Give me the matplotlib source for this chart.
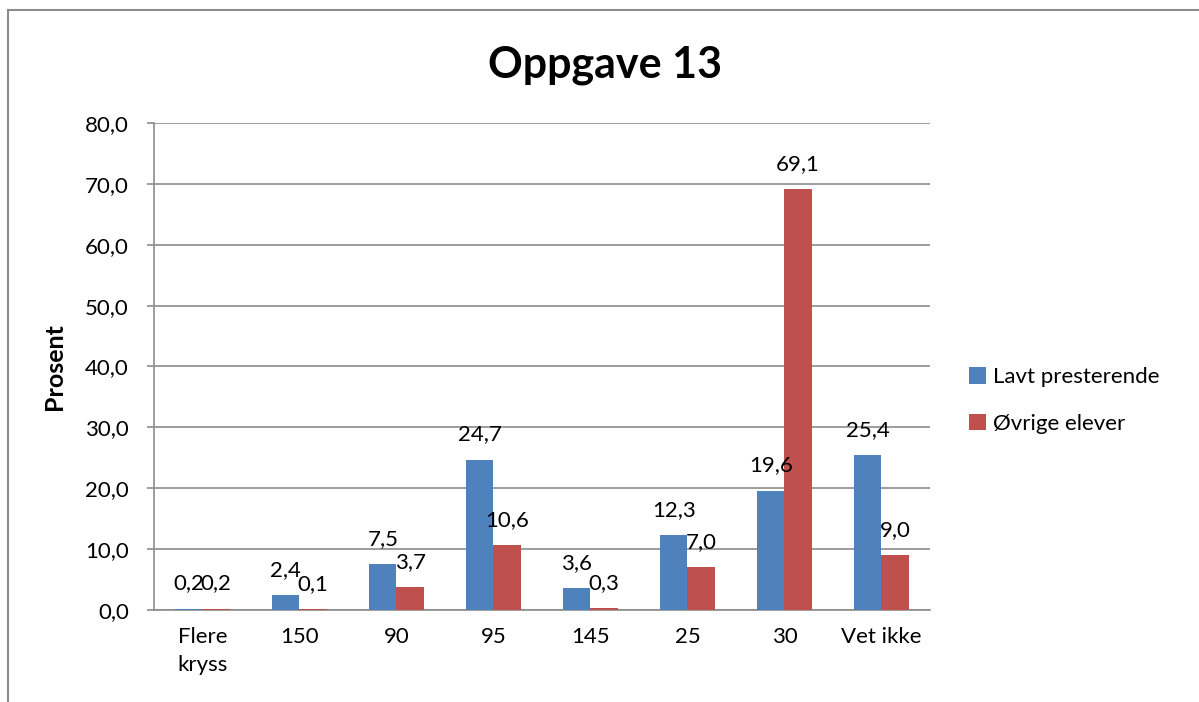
import matplotlib
matplotlib.use("Agg")
import matplotlib.pyplot as plt
import numpy as np
from matplotlib.lines import Line2D

plt.rcParams['font.family'] = ['Lato', 'DejaVu Sans']

# Data
categories = ['Flere\nkryss', '150', '90', '95', '145', '25', '30', 'Vet ikke']
lavt = [0.2, 2.4, 7.5, 24.7, 3.6, 12.3, 19.6, 25.4]
ovrige = [0.2, 0.1, 3.7, 10.6, 0.3, 7.0, 69.1, 9.0]
series_names = ['Lavt presterende', 'Øvrige elever']
yticks = [0, 10, 20, 30, 40, 50, 60, 70, 80]

blue = '#4F81BD'
red = '#C0504D'
grid_col = '#8C8C8C'

fig = plt.figure(figsize=(11.99, 7.02), dpi=100)
ax = fig.add_axes([0.1284, 0.1311, 0.6472, 0.6937])

x = np.arange(len(categories))
w = 0.28
b1 = ax.bar(x - w / 2, lavt, width=w, color=blue, label=series_names[0], zorder=3)
b2 = ax.bar(x + w / 2, ovrige, width=w, color=red, label=series_names[1], zorder=3)

# value labels above the bars
for bars, vals in [(b1, lavt), (b2, ovrige)]:
    for rect, v in zip(bars, vals):
        ax.annotate(f'{v:.1f}'.replace('.', ','),
                    (rect.get_x() + rect.get_width() / 2, v),
                    xytext=(0, 14), textcoords='offset points',
                    ha='center', va='baseline', fontsize=16, zorder=4)

ax.set_xlim(-0.5, len(categories) - 0.5)
ax.set_ylim(0, 80)
ax.set_yticks(yticks)
ax.set_yticklabels([f'{t:.1f}'.replace('.', ',') for t in yticks], fontsize=16)
ax.set_xticks(x)
ax.set_xticklabels(categories, fontsize=16, linespacing=1.5)
ax.tick_params(axis='x', length=0, pad=12)
ax.tick_params(axis='y', length=5, width=1.2, color=grid_col, pad=13)

ax.yaxis.grid(True, color=grid_col, linewidth=1.2, zorder=0)
for side in ['top', 'right']:
    ax.spines[side].set_visible(False)
for side in ['left', 'bottom']:
    ax.spines[side].set_color(grid_col)
    ax.spines[side].set_linewidth(1.2)

ax.set_ylabel('Prosent', fontsize=18, fontweight='bold', labelpad=14)
fig.text(0.505, 0.907, 'Oppgave 13', ha='center', va='center',
         fontsize=31, fontweight='bold')

ax.legend(loc='center left', bbox_to_anchor=(1.025, 0.43), frameon=False,
          fontsize=16, handlelength=0.75, handleheight=0.75,
          handletextpad=0.3, labelspacing=1.2)

# outer chart frame (left and top edges visible)
fig.add_artist(Line2D([0.007, 0.007], [0.0, 0.986], color='#8C8C8C', linewidth=1.5))
fig.add_artist(Line2D([0.007, 1.0], [0.986, 0.986], color='#8C8C8C', linewidth=1.5))

fig.savefig('out.png', dpi=100)
